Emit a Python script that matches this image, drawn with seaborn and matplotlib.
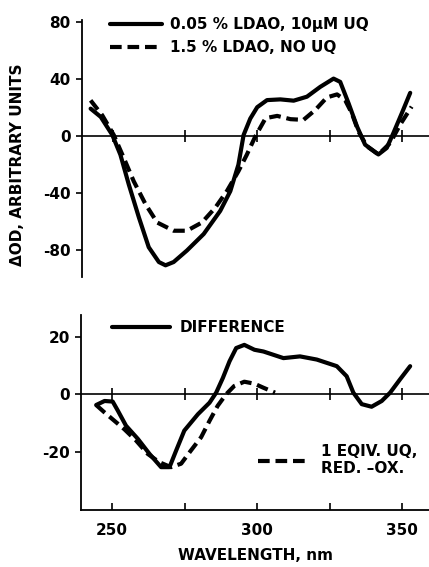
import numpy as np
import pandas as pd
import matplotlib
matplotlib.use("Agg")
import matplotlib.pyplot as plt
import seaborn as sns

# top panel: 0.05 % LDAO + 10 uM UQ (solid)
wl_top_solid = [242.3, 245.8, 249.8, 252.6, 255.5, 259.0, 262.4, 265.9, 268.2, 271.0,
                275.6, 281.4, 287.1, 290.6, 293.4, 295.2, 297.5, 299.9, 303.3, 307.9,
                312.5, 317.1, 321.7, 326.3, 328.6, 331.5, 334.4, 337.2, 341.8, 344.7,
                347.0, 349.9, 352.8]
od_top_solid = [19.0, 13.2, 0.5, -13.4, -34.3, -57.5, -78.4, -88.8, -91.1, -88.8,
                -80.7, -69.1, -52.9, -39.0, -20.4, 0.5, 12.0, 20.0, 25.0, 25.5,
                24.6, 27.4, 34.3, 40.1, 37.8, 22.7, 6.5, -6.3, -13.2, -8.6,
                1.9, 15.8, 30.1]

# top panel: 1.5 % LDAO, no UQ (dashed)
wl_top_dash = [242.3, 246.3, 250.3, 253.8, 257.2, 261.3, 265.3, 271.0, 275.6, 280.8,
               285.4, 289.4, 293.4, 296.3, 299.2, 302.8, 306.8, 311.4, 315.9, 320.0,
               324.0, 327.5, 330.3, 332.6, 334.9, 337.8, 341.8, 345.9, 349.3, 353.3]
od_top_dash = [24.8, 14.4, 0.5, -15.8, -32.0, -48.2, -61.0, -66.8, -66.8, -61.0,
               -50.6, -39.0, -25.0, -13.4, -0.7, 12.3, 13.9, 11.6, 11.1, 18.1,
               26.9, 29.0, 25.0, 15.8, 3.0, -7.4, -13.2, -5.1, 7.7, 20.4]

# bottom panel: difference (solid)
wl_diff = [244.5, 247.4, 250.2, 252.0, 254.8, 258.9, 262.9, 266.9, 269.8, 272.1,
           274.9, 279.6, 283.6, 285.9, 288.2, 290.5, 292.8, 295.6, 299.1, 302.2,
           309.1, 314.8, 320.6, 327.5, 330.9, 333.2, 336.1, 339.5, 343.0, 345.9,
           349.3, 352.8]
od_diff = [-3.7, -2.3, -2.5, -5.7, -10.9, -15.5, -20.7, -25.3, -25.3, -19.5,
           -12.6, -6.9, -2.9, 0.6, 5.7, 11.5, 16.1, 17.2, 15.5, 14.9,
           12.6, 13.2, 12.1, 9.8, 6.3, 0.6, -3.4, -4.3, -2.3, 0.6,
           5.2, 9.8]

# bottom panel: 1 equiv. UQ, red.-ox. (dashed)
wl_uq = [244.5, 247.4, 250.8, 254.2, 258.3, 262.3, 266.3, 270.3, 273.8, 277.2,
         280.7, 283.6, 286.4, 289.3, 292.1, 295.6, 299.1, 302.2, 306.2]
od_uq = [-3.7, -6.3, -9.2, -12.1, -16.1, -20.7, -23.6, -25.3, -24.1, -19.5,
         -14.9, -9.2, -4.0, 0.0, 2.9, 4.4, 3.7, 2.3, 0.6]

sns.set_style("ticks")
plt.rcParams['font.family'] = ['DejaVu Sans']
plt.rcParams['font.size'] = 11
plt.rcParams['font.weight'] = 'bold'
plt.rcParams['axes.unicode_minus'] = False
for key in ['text.color', 'axes.labelcolor', 'axes.edgecolor', 'xtick.color', 'ytick.color']:
    plt.rcParams[key] = 'black'

fs = 11

fig = plt.figure(figsize=(4.29, 5.67), dpi=100)
ax1 = fig.add_axes([0.191, 0.511, 0.809, 0.454])
ax2 = fig.add_axes([0.189, 0.100, 0.811, 0.344])

lw = 3.0
dash = (0, (2.8, 1.4))

sns.lineplot(x=wl_top_solid, y=od_top_solid, ax=ax1, color='black', lw=lw,
             label='0.05 % LDAO, 10\u03bcM UQ')
sns.lineplot(x=wl_top_dash, y=od_top_dash, ax=ax1, color='black', lw=lw,
             linestyle=dash, label='1.5 % LDAO, NO UQ')

sns.lineplot(x=wl_diff, y=od_diff, ax=ax2, color='black', lw=lw, label='DIFFERENCE')
sns.lineplot(x=wl_uq, y=od_uq, ax=ax2, color='black', lw=lw, linestyle=dash,
             label='1 EQIV. UQ,\nRED. \u2013OX.')

xlim = (239.3, 359.3)
for ax in (ax1, ax2):
    ax.set_xlim(*xlim)
    ax.spines['top'].set_visible(False)
    ax.spines['right'].set_visible(False)
    ax.spines['left'].set_linewidth(1.3)
    ax.tick_params(axis='y', direction='out', length=4, width=1.2, pad=4, labelsize=fs)

# top panel: axis line drawn at zero
ax1.set_ylim(-99.5, 81.4)
ax1.set_yticks([-80, -40, 0, 40, 80])
ax1.spines['bottom'].set_position(('data', 0))
ax1.spines['bottom'].set_linewidth(1.2)
ax1.set_xticks(np.arange(250, 351, 25))
ax1.tick_params(axis='x', direction='inout', length=8, width=1.2, labelbottom=False)

# bottom panel
ax2.set_ylim(-40.3, 27.5)
ax2.set_yticks([-20, 0, 20])
ax2.spines['bottom'].set_linewidth(1.3)
ax2.set_xticks(np.arange(250, 351, 25))
ax2.set_xticklabels(['250', '', '300', '', '350'])
ax2.tick_params(axis='x', direction='in', length=5, width=1.2, pad=9, labelsize=fs)
ax2.set_xlabel('WAVELENGTH, nm', fontsize=fs, fontweight='bold', labelpad=7)
ax2.set_ylabel('')
ax1.set_ylabel('')

zero_frac = (0 - (-40.3)) / (27.5 - (-40.3))
sec = ax2.secondary_xaxis(zero_frac)
sec.set_xticks(np.arange(250, 351, 25))
sec.tick_params(axis='x', direction='inout', length=8, width=1.2, labelbottom=False,
                labeltop=False)
sec.spines['bottom'].set_linewidth(1.2)
sec.spines['top'].set_linewidth(1.2)

fig.text(18 / 429, 1 - 165 / 567, '\u0394OD, ARBITRARY UNITS', rotation=90,
         ha='center', va='center', fontsize=fs, fontweight='bold')

# legends
h1, l1 = ax1.get_legend_handles_labels()
ax1.legend(h1, l1, loc='upper left', bbox_to_anchor=(110 / 429, 1 - 17 / 567),
           bbox_transform=fig.transFigure, frameon=False, borderpad=0,
           borderaxespad=0, handlelength=3.4, handletextpad=0.5, labelspacing=0.55,
           prop={'size': fs, 'weight': 'bold'})

h2, l2 = ax2.get_legend_handles_labels()
leg_a = ax2.legend(h2[:1], l2[:1], loc='upper left',
                   bbox_to_anchor=(112 / 429, 1 - 320 / 567),
                   bbox_transform=fig.transFigure, frameon=False, borderpad=0,
                   borderaxespad=0, handlelength=3.8, handletextpad=0.6,
                   prop={'size': fs, 'weight': 'bold'})
ax2.add_artist(leg_a)
ax2.legend(h2[1:], l2[1:], loc='upper left',
           bbox_to_anchor=(258 / 429, 1 - 444 / 567),
           bbox_transform=fig.transFigure, frameon=False, borderpad=0,
           borderaxespad=0, handlelength=3.2, handletextpad=0.9,
           prop={'size': fs, 'weight': 'bold'})

fig.savefig('out.png', dpi=100)
